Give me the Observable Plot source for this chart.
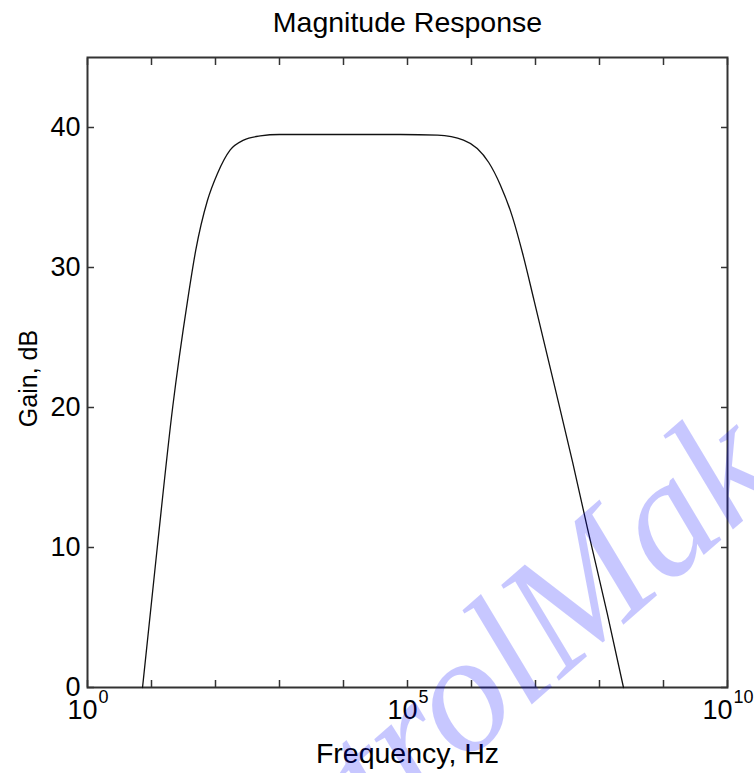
<!DOCTYPE html>
<html>
<head>
<meta charset="utf-8">
<script src="https://cdn.jsdelivr.net/npm/d3@7"></script>
<script src="https://cdn.jsdelivr.net/npm/@observablehq/plot@0.6"></script>
<style>
  html, body { margin: 0; padding: 0; background: #fff; }
  #chart svg { display: block; }
</style>
</head>
<body>
<div id="chart"></div>
<script>
// Band-pass magnitude response, frequency in Hz and gain in dB
const frequencyHz = [
  7.24, 12.3, 21.4, 36.5, 49, 75, 107, 170, 275, 500, 1000, 1e4, 7.76e4,
  2.95e5, 7.5e5, 1.23e6, 1.86e6, 2.82e6, 4.37e6, 6.3e6, 9.55e6,
  1.9e7, 3.8e7, 6.46e7, 1.32e8, 2.37e8
];
const gainDb = [
  0, 10, 20, 27.6, 31.2, 34.8, 36.7, 38.4, 39.1, 39.4, 39.5, 39.5, 39.5,
  39.45, 39.1, 38.5, 37.5, 35.9, 33.6, 31.0, 27.6,
  21.9, 16.1, 11.4, 5.3, 0
];

// Axis ticks
const decadeTicks = d3.range(0, 11).map(e => 10 ** e);
const labelExponents = [0, 5, 10];
const gainTicks = [0, 10, 20, 30, 40];

const titleText = "Magnitude Response";
const xLabel = "Frequency, Hz";
const yLabel = "Gain, dB";
const watermark = "ControlMaker";

const response = frequencyHz.map((f, i) => ({f, g: gainDb[i]}));

const font = "'Liberation Sans', Arial, sans-serif";
const baseSize = 27;
const expSize = 18;
const charW = 0.556;

// Power-of-ten labels: "10" plus a raised exponent, centred as a pair on the tick
const powerLabels = labelExponents.flatMap(e => {
  const wb = 2 * charW * baseSize;
  const we = String(e).length * charW * expSize;
  const shift = (wb - we) / 2;
  return [
    Plot.text([10 ** e], {
      x: d => d, frameAnchor: "bottom", text: () => "10",
      textAnchor: "end", lineAnchor: "top", dx: shift, dy: 12,
      fontSize: baseSize, fontFamily: font, fill: "#000"
    }),
    Plot.text([10 ** e], {
      x: d => d, frameAnchor: "bottom", text: () => String(e),
      textAnchor: "start", lineAnchor: "top", dx: shift + 1, dy: 3,
      fontSize: expSize, fontFamily: font, fill: "#000"
    })
  ];
});

const plot = Plot.plot({
  width: 754,
  height: 773,
  marginLeft: 87,
  marginRight: 27,
  marginTop: 57,
  marginBottom: 86,
  style: {background: "#fff", fontFamily: font},
  x: {type: "log", domain: [1, 1e10]},
  y: {domain: [0, 45]},
  marks: [
    // inward ticks on all four sides
    Plot.axisX(decadeTicks, {anchor: "bottom", tickSize: -7, tickFormat: () => "", label: null, stroke: "#333", strokeWidth: 1.5}),
    Plot.axisX(decadeTicks, {anchor: "top", tickSize: -7, tickFormat: () => "", label: null, stroke: "#333", strokeWidth: 1.5}),
    Plot.axisY(gainTicks, {anchor: "left", tickSize: -7, tickFormat: () => "", label: null, stroke: "#333", strokeWidth: 1.5}),
    Plot.axisY(gainTicks, {anchor: "right", tickSize: -7, tickFormat: () => "", label: null, stroke: "#333", strokeWidth: 1.5}),
    Plot.frame({stroke: "#333", strokeWidth: 2}),
    Plot.line(response, {x: "f", y: "g", stroke: "#111", strokeWidth: 1.3, curve: "monotone-x"}),
    // y tick labels
    Plot.text(gainTicks, {
      y: d => d, frameAnchor: "left", text: d => String(d),
      textAnchor: "end", dx: -7, fontSize: baseSize, fontFamily: font, fill: "#000"
    }),
    ...powerLabels,
    Plot.text([titleText], {
      frameAnchor: "top", text: d => d, dy: -35, lineAnchor: "middle",
      fontSize: 28.5, fontFamily: font, fill: "#000"
    }),
    Plot.text([xLabel], {
      frameAnchor: "bottom", text: d => d, dy: 66, lineAnchor: "middle",
      fontSize: 28.5, fontFamily: font, fill: "#000"
    }),
    Plot.text([yLabel], {
      frameAnchor: "left", text: d => d, dx: -59, dy: 6, rotate: -90,
      textAnchor: "middle", lineAnchor: "middle",
      fontSize: 25, fontFamily: font, fill: "#000"
    }),
    // translucent diagonal watermark
    Plot.text([watermark], {
      frameAnchor: "top-left", text: d => d, dx: 83, dy: 961, rotate: -41,
      textAnchor: "start", lineAnchor: "bottom",
      fontSize: 168, fontFamily: "'Liberation Serif', 'Times New Roman', serif",
      fontStyle: "italic", fill: "blue", fillOpacity: 0.22
    })
  ]
});

document.getElementById("chart").append(plot);
</script>
</body>
</html>
